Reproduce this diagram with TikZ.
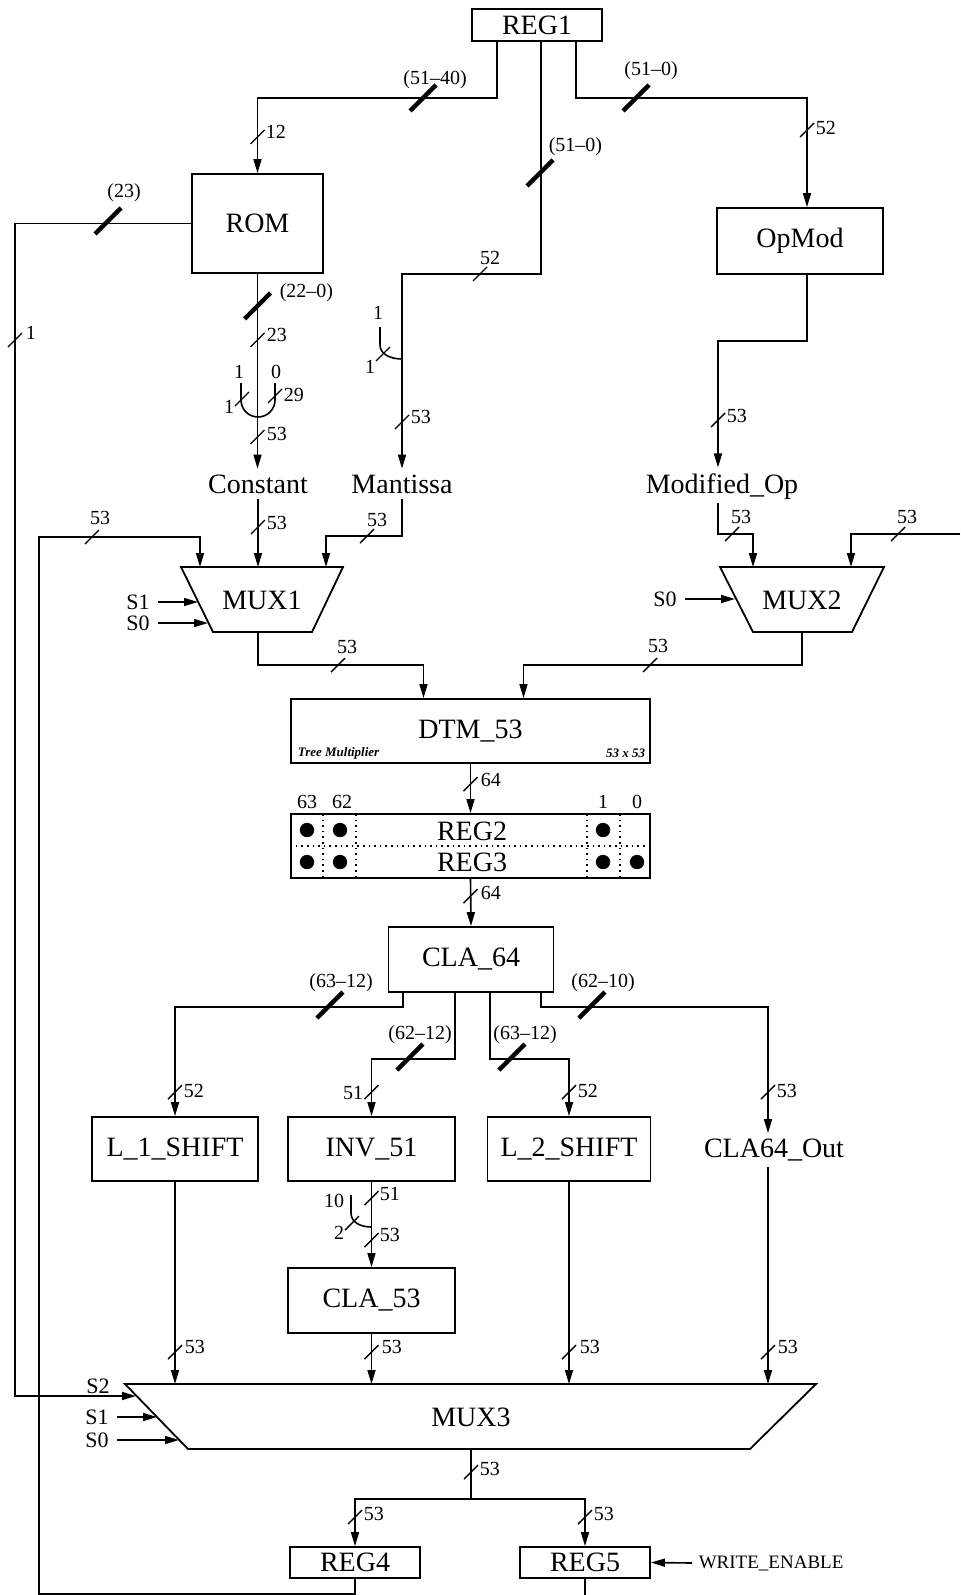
\documentclass[tikz,border=0pt]{standalone}
\usepackage{fontspec}
\setmainfont{Liberation Serif}
\usetikzlibrary{arrows.meta}
\begin{document}
\begin{tikzpicture}[x=0.5pt,y=-0.5pt,line width=0.8pt,
  box/.style={draw,line width=0.9pt,inner sep=0pt,font=\fontsize{14}{16}\selectfont},
  txt/.style={inner sep=2.5pt,font=\fontsize{14}{16}\selectfont},
  lbl/.style={inner sep=0pt,font=\fontsize{10}{12}\selectfont},
  sel/.style={inner sep=4pt,font=\fontsize{11}{13}\selectfont},
  tiny/.style={inner sep=0pt,font=\fontsize{6.5}{7}\selectfont\bfseries\itshape},
  arr/.style={-{Triangle[length=7pt,width=4pt]}},
  muxshape/.style={draw,line width=0.9pt},
  bus/.pic={\draw[line width=0.7pt] (-7,7) -- (7,-7);},
  tbus/.pic={\draw[line width=2.2pt] (-13,13) -- (13,-13);},
]
\useasboundingbox (0,0) rectangle (960,1595);

% ---------------- boxes and texts ----------------
\node[box,minimum width=65pt,minimum height=16pt] (reg1) at (537,25) {REG1};
\node[box,minimum width=65.5pt,minimum height=49.5pt] (rom) at (257.5,223.5) {ROM};
\node[box,minimum width=83pt,minimum height=33pt] (opmod) at (800,241) {OpMod};
\node[txt,anchor=base] (const) at (258,493) {Constant};
\node[txt,anchor=base] (mant) at (402,493) {Mantissa};
\node[txt,anchor=base] (modop) at (722,493) {Modified\_Op};

\draw[muxshape] (181,567) -- (343,567) -- (312,632) -- (213,632) -- cycle;
\node[txt] (mux1) at (262,600) {MUX1};
\draw[muxshape] (720,567) -- (884,567) -- (852,632) -- (753,632) -- cycle;
\node[txt] (mux2) at (802,600) {MUX2};

\node[box,minimum width=179.5pt,minimum height=32pt] (dtm) at (470.5,731) {DTM\_53};
\node[tiny,anchor=west] (tm) at (297,753) {Tree Multiplier};
\node[tiny,anchor=east] (tmx) at (646,753) {53 x 53};

\node[draw,line width=0.9pt,inner sep=0pt,minimum width=179.5pt,minimum height=32pt] (reg23) at (470.5,846) {};
\draw[dotted,line width=0.8pt] (reg23.west) -- (reg23.east);
\foreach \xx in {323,356,587,620}{\draw[dotted,line width=0.8pt] (\xx,814) -- (\xx,878);}
\node[txt] (reg2) at (472,831) {REG2};
\node[txt] (reg3) at (472,862) {REG3};
\foreach \xx in {307,340,603}{\fill (\xx,830) circle[radius=3.6pt];}
\foreach \xx in {307,340,603,637}{\fill (\xx,862) circle[radius=3.6pt];}
\node[lbl] (b63) at (307,802) {63};
\node[lbl] (b62) at (342,802) {62};
\node[lbl] (b1) at (603,802) {1};
\node[lbl] (b0) at (637,802) {0};

\node[box,minimum width=82.5pt,minimum height=32.5pt] (cla64) at (471,959.5) {CLA\_64};

\node[box,minimum width=83pt,minimum height=32pt] (l1) at (175,1149) {L\_1\_SHIFT};
\node[box,minimum width=83.5pt,minimum height=32pt] (inv) at (371.5,1149) {INV\_51};
\node[box,minimum width=81.5pt,minimum height=32pt] (l2) at (569,1149) {L\_2\_SHIFT};
\node[txt] (c64o) at (774,1150) {CLA64\_Out};
\node[box,minimum width=83.5pt,minimum height=32.5pt] (cla53) at (371.5,1300.5) {CLA\_53};

\draw[muxshape] (125,1384) -- (816,1384) -- (750,1449) -- (188,1449) -- cycle;
\node[txt] (mux3) at (471,1417) {MUX3};

\node[box,minimum width=65pt,minimum height=15.5pt] (reg4) at (355,1562.5) {REG4};
\node[box,minimum width=65pt,minimum height=15.5pt] (reg5) at (585,1562.5) {REG5};
\node[inner sep=3pt,anchor=west,font=\fontsize{9.5}{11}\selectfont] (we) at (692,1563) {WRITE\_ENABLE};

% select labels
\node[sel] (m1s1) at (138,602) {S1};
\node[sel] (m1s0) at (138,623) {S0};
\node[sel] (m2s0) at (665,599) {S0};
\node[sel] (m3s2) at (98,1386) {S2};
\node[sel] (m3s1) at (97,1417) {S1};
\node[sel] (m3s0) at (97,1440) {S0};

% ---------------- named coordinates ----------------
\coordinate (r1a) at (497,41);
\coordinate (r1b) at (541,41);
\coordinate (r1c) at (576,41);
\coordinate (k1) at (257.5,98);
\coordinate (k2) at (402,274);
\coordinate (k3) at (807,98);
\coordinate (fbL) at (15,1396);
\coordinate (s2in) at (136,1396);
\coordinate (fbB) at (39,1594);
\coordinate (fbC) at (39,537);
\coordinate (m1in1) at (200,567);
\coordinate (m1in2) at (258,567);
\coordinate (m1in3) at (326,567);
\coordinate (k5) at (402,536);
\coordinate (m1e1) at (198,602);
\coordinate (m1e0) at (208,623);
\coordinate (m1out) at (258,632);
\coordinate (k6) at (258,665);
\coordinate (mo) at (718,503);
\coordinate (k7) at (718,534);
\coordinate (m2in1) at (753,567);
\coordinate (edgeR) at (960,534);
\coordinate (m2in2) at (851,567);
\coordinate (m2e0) at (735,599);
\coordinate (m2out) at (802,632);
\coordinate (k8) at (802,665);
\coordinate (m3t) at (0,1384);
\coordinate (m3e1) at (157,1417);
\coordinate (m3e0) at (179,1440);
\coordinate (m3o) at (471,1449);
\coordinate (k9) at (471,1499);
\coordinate (bot) at (0,1595);

% ---------------- connectors ----------------
\draw[arr] (r1a) |- (k1) -- (rom.north);
\draw[arr] (r1b) |- (k2) -- (mant.north);
\draw[arr] (r1c) |- (k3) -- ([xshift=3.5pt]opmod.north);
\draw[arr] ([xshift=3.5pt]opmod.south) -- ++(0,66) -| ([xshift=-2pt]modop.north);
\draw[arr] (rom.south) -- (rom.south |- const.north);
\draw[arr] (rom.west) -| (fbL) -- (s2in);
\draw[arr] (reg4.south) |- (fbB) -- (fbC) -| (m1in1);
\draw[arr] (const.south) -- (m1in2);
\draw[arr] (mant.south) -- (k5) -| (m1in3);
\draw[arr] (m1s1.east) -- (m1e1);
\draw[arr] (m1s0.east) -- (m1e0);
\draw[arr] (m1out) -- (k6) -| ([xshift=-23.5pt]dtm.north);
\draw[arr] (mo) -- (k7) -| (m2in1);
\draw[arr] (edgeR) -| (m2in2);
\draw[arr] (m2s0.east) -- (m2e0);
\draw[arr] (m2out) -- (k8) -| ([xshift=26.5pt]dtm.north);
\draw[arr] (dtm.south) -- (reg23.north);
\draw[arr] (reg23.south) -- (cla64.north);
\draw[arr] ([xshift=-34pt]cla64.south) -- ++(0,14) -| (l1.north);
\draw[arr] ([xshift=-8pt]cla64.south) -- ++(0,66) -| (inv.north);
\draw[arr] ([xshift=9.5pt]cla64.south) -- ++(0,66) -| (l2.north);
\draw[arr] ([xshift=35pt]cla64.south) -- ++(0,14) -| ([xshift=-3pt]c64o.north);
\draw[arr] (l1.south) -- (l1.south |- m3t);
\draw[arr] (inv.south) -- (cla53.north);
\draw[arr] (cla53.south) -- (cla53.south |- m3t);
\draw[arr] (l2.south) -- (l2.south |- m3t);
\draw[arr] ([xshift=-3pt]c64o.south) -- ([xshift=-3pt]c64o.south |- m3t);
\draw[arr] (m3s1.east) -- (m3e1);
\draw[arr] (m3s0.east) -- (m3e0);
\draw (m3o) -- (k9);
\draw[arr] (k9) -| (reg4.north);
\draw[arr] (k9) -| (reg5.north);
\draw (reg5.south) -- (reg5.south |- bot);
\draw[arr] (we.west) -- (reg5.east);

% merge joints
\draw (241,383) -- (241,400) arc[start angle=180,end angle=360,radius=8.5pt] -- (275,383);
\node[lbl] (j1) at (239,372) {1};
\node[lbl] (j0) at (276,372) {0};
\pic at (242,399) {bus}; \node[lbl] (j1b) at (229,407) {1};
\pic at (275,396) {bus}; \node[lbl,anchor=west] (j29) at (283,395) {29};

\draw (380,327) -- (380,345) .. controls (380,354) and (390,359) .. (402,359);
\node[lbl] (mj1) at (378,313) {1};
\pic at (383,354) {bus}; \node[lbl] (mj1b) at (370,367) {1};

\draw (351,1195) -- (351,1213) .. controls (351,1222) and (360,1227) .. (371.5,1227);
\node[lbl] (ij10) at (334,1201) {10};
\pic at (352,1223) {bus}; \node[lbl] (ij2) at (339,1233) {2};

% ---------------- thin bus slashes ----------------
\pic at (257.5,137) {bus}; \node[lbl,anchor=west] at (265,132) {12};
\pic at (807,130) {bus}; \node[lbl,anchor=west] at (815,128) {52};
\pic at (480,274) {bus}; \node[lbl] at (490,258) {52};
\pic at (15,340) {bus}; \node[lbl,anchor=west] at (25,333) {1};
\pic at (257.5,340) {bus}; \node[lbl,anchor=west] at (266,335) {23};
\pic at (257.5,437) {bus}; \node[lbl,anchor=west] at (266,434) {53};
\pic at (402,422) {bus}; \node[lbl,anchor=west] at (410,417) {53};
\pic at (718,420) {bus}; \node[lbl,anchor=west] at (726,416) {53};
\pic at (92,537) {bus}; \node[lbl] at (100,518) {53};
\pic at (258,527) {bus}; \node[lbl,anchor=west] at (266,523) {53};
\pic at (367,536) {bus}; \node[lbl] at (377,520) {53};
\pic at (338,665) {bus}; \node[lbl] at (347,647) {53};
\pic at (732,534) {bus}; \node[lbl] at (741,517) {53};
\pic at (898,534) {bus}; \node[lbl] at (907,517) {53};
\pic at (650,665) {bus}; \node[lbl] at (658,646) {53};
\pic at (470.5,784) {bus}; \node[lbl,anchor=west] at (480,780) {64};
\pic at (470.5,896) {bus}; \node[lbl,anchor=west] at (480,893) {64};
\pic at (175,1092) {bus}; \node[lbl,anchor=west] at (183,1091) {52};
\pic at (371.5,1092) {bus}; \node[lbl,anchor=east] at (364,1093) {51};
\pic at (569,1092) {bus}; \node[lbl,anchor=west] at (577,1091) {52};
\pic at (768,1092) {bus}; \node[lbl,anchor=west] at (776,1091) {53};
\pic at (371.5,1198) {bus}; \node[lbl,anchor=west] at (379,1194) {51};
\pic at (371.5,1240) {bus}; \node[lbl,anchor=west] at (379,1235) {53};
\pic at (175,1352) {bus}; \node[lbl,anchor=west] at (184,1347) {53};
\pic at (371.5,1352) {bus}; \node[lbl,anchor=west] at (381,1347) {53};
\pic at (569,1352) {bus}; \node[lbl,anchor=west] at (579,1347) {53};
\pic at (768,1352) {bus}; \node[lbl,anchor=west] at (777,1347) {53};
\pic at (471,1472) {bus}; \node[lbl,anchor=west] at (479,1469) {53};
\pic at (355,1517) {bus}; \node[lbl,anchor=west] at (363,1514) {53};
\pic at (585,1517) {bus}; \node[lbl,anchor=west] at (593,1514) {53};

% ---------------- thick range slashes ----------------
\pic at (423,98) {tbus}; \node[lbl] at (435,80) {(51--40)};
\pic at (540,173) {tbus}; \node[lbl,anchor=west] at (548,147) {(51--0)};
\pic at (636,98) {tbus}; \node[lbl] at (651,71) {(51--0)};
\pic at (108,221) {tbus}; \node[lbl] at (124,193) {(23)};
\pic at (257.5,306) {tbus}; \node[lbl,anchor=west] at (279,293) {(22--0)};
\pic at (330,1005) {tbus}; \node[lbl] at (341,983) {(63--12)};
\pic at (410,1057) {tbus}; \node[lbl] at (420,1035) {(62--12)};
\pic at (512,1057) {tbus}; \node[lbl] at (525,1035) {(63--12)};
\pic at (592,1005) {tbus}; \node[lbl] at (603,983) {(62--10)};
\end{tikzpicture}
\end{document}
